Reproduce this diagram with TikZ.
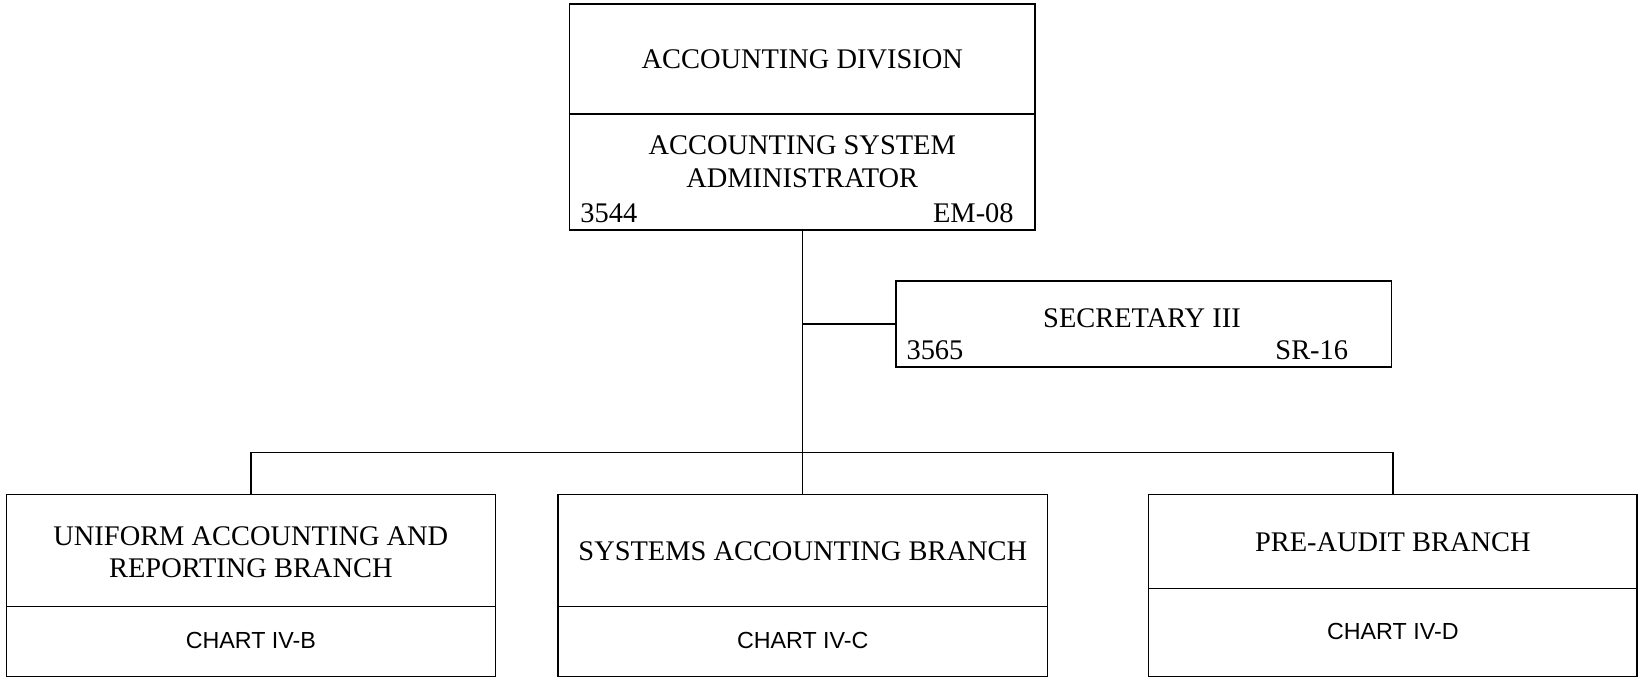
\documentclass[tikz,border=0pt]{standalone}
\usepackage{fontspec}
\setmainfont{Liberation Serif}
\newfontfamily\arialf{Liberation Sans}
\begin{document}
\begin{tikzpicture}[x=0.75pt,y=-0.75pt,
  box/.style={draw, line width=1pt, inner sep=0pt, outer sep=0pt},
  lbl/.style={inner sep=0pt, align=center, font=\fontsize{20.4}{23.3}\selectfont},
  chartlbl/.style={inner sep=0pt, font=\arialf\fontsize{16.7}{20}\selectfont},
  conn/.style={line width=1pt}]
\useasboundingbox (0,0) rectangle (1568,647.7);
% top box
\node[box, minimum width=445*0.75pt, minimum height=216*0.75pt] (top) at (767.5,112) {};
\draw[conn] (top.west |- 0,109) -- (top.east |- 0,109);
\node[lbl] (topt) at (767.5,57) {ACCOUNTING DIVISION};
\node[lbl] (topa) at (767.5,154.5) {ACCOUNTING SYSTEM\\ADMINISTRATOR};
\node[lbl, anchor=west] (topn) at (555,204) {3544};
\node[lbl, anchor=east] (topg) at (970,204) {EM-08};
% secretary
\node[box, minimum width=474*0.75pt, minimum height=82*0.75pt] (sec) at (1094,310) {};
\node[lbl] (sect) at (1092.5,304) {SECRETARY III};
\node[lbl, anchor=west] (secn) at (867,335) {3565};
\node[lbl, anchor=east] (secg) at (1290,335) {SR-16};
% bottom boxes
\node[box, minimum width=468*0.75pt, minimum height=174*0.75pt] (left) at (240,560) {};
\node[box, minimum width=468*0.75pt, minimum height=174*0.75pt] (mid) at (768,560) {};
\node[box, minimum width=467*0.75pt, minimum height=174*0.75pt] (right) at (1332.5,560) {};
\draw[conn] (left.west |- 0,580) -- (left.east |- 0,580);
\draw[conn] (mid.west |- 0,580) -- (mid.east |- 0,580);
\draw[conn] (right.west |- 0,563) -- (right.east |- 0,563);
\node[lbl] (leftt) at (240,528.5) {UNIFORM ACCOUNTING AND\\REPORTING BRANCH};
\node[chartlbl] (leftc) at (240,613) {CHART IV-B};
\node[lbl] (midt) at (768,527) {SYSTEMS ACCOUNTING BRANCH};
\node[chartlbl] (midc) at (768,613) {CHART IV-C};
\node[lbl] (rightt) at (1332.5,519) {PRE-AUDIT BRANCH};
\node[chartlbl] (rightc) at (1332.5,604) {CHART IV-D};
% connectors
\coordinate (bus) at (768,433);
\draw[conn] (top.south) -- (top.south |- mid.north);
\draw[conn] (top.south |- sec.west) -- (sec.west);
\draw[conn] (left.north) |- (bus) -| (right.north);
\end{tikzpicture}
\end{document}
